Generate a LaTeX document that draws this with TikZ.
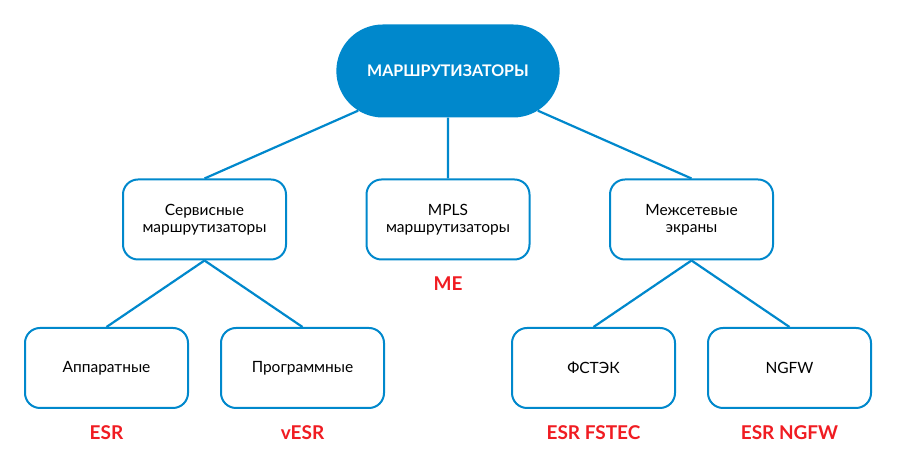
\documentclass[tikz,border=0pt]{standalone}
\usepackage{fontspec}
\setmainfont{Lato}
\usetikzlibrary{positioning,shapes.misc}
\definecolor{routerblue}{RGB}{0,136,204}
\definecolor{routerred}{RGB}{240,28,34}
\begin{document}
\begin{tikzpicture}[
level distance=148.5pt,
level 1/.style={sibling distance=243.5pt,
	edge from parent path={(\tikzparentnode) -- (\tikzchildnode.north)}},
level 2/.style={sibling distance=196pt,
	edge from parent path={(\tikzparentnode.south) -- (\tikzchildnode.north)}},
edge from parent/.style={draw=routerblue,line width=2.2pt},
root/.style={
	rounded rectangle,minimum width=230pt,minimum height=93pt,
	fill=routerblue,text=white,
	font=\bfseries\fontsize{16}{18}\selectfont},
conf/.style={
	rectangle,minimum width=163pt,minimum height=80pt,rounded corners=15pt,
	draw=routerblue,line width=2pt,align=center,
	font=\fontsize{15.5}{17}\selectfont},
prod/.style={text=routerred,font=\bfseries\fontsize{19}{21}\selectfont}
]
\useasboundingbox (0,0) rectangle (900pt,457pt);
% \tikzstyle{level 3}=[sibling distance=90pt]
\node[root] (top) at (448pt,386pt) {МАРШРУТИЗАТОРЫ}
child{node[conf] (svc) {Сервисные\\маршрутизаторы}
child{node[conf] (hw) {Аппаратные}}
child{node[conf] (sw) {Программные}}}
child{node[conf] (mpls) {MPLS\\маршрутизаторы}}
child{node[conf] (fw) {Межсетевые\\экраны}
child{node[conf] (fstec) {ФСТЭК}}
child{node[conf] (ngfw) {NGFW}}}
;
\node[prod,below=13pt of mpls] (me) {ME};
\node[prod,below=13pt of hw] (esr) {ESR};
\node[prod,below=13pt of sw] (vesr) {vESR};
\node[prod,below=13pt of fstec] (esrf) {ESR FSTEC};
\node[prod,below=13pt of ngfw] (esrn) {ESR NGFW};
\end{tikzpicture}
\end{document}
